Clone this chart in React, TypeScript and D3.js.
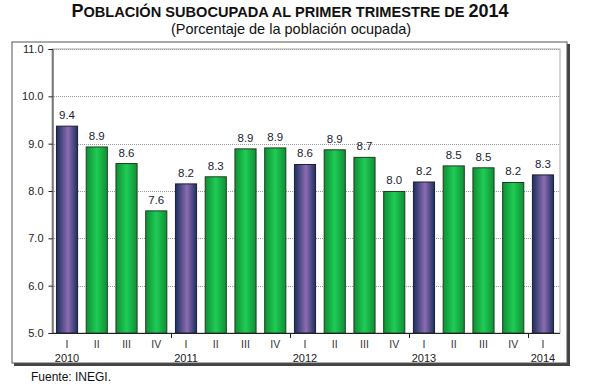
import React, { useEffect, useRef } from 'react';
import * as d3 from 'd3';

const quarters = ['I', 'II', 'III', 'IV', 'I', 'II', 'III', 'IV', 'I', 'II', 'III', 'IV', 'I', 'II', 'III', 'IV', 'I'];
const years = ['2010', '', '', '', '2011', '', '', '', '2012', '', '', '', '2013', '', '', '', '2014'];
const values = [9.37, 8.93, 8.58, 7.58, 8.15, 8.3, 8.89, 8.91, 8.56, 8.87, 8.71, 7.99, 8.19, 8.53, 8.49, 8.18, 8.34];
const yTicks = [5, 6, 7, 8, 9, 10, 11];

const App: React.FC = () => {
  const svgRef = useRef<SVGSVGElement>(null);

  useEffect(() => {
    if (!svgRef.current) return;
    const svg = d3.select(svgRef.current);
    svg.selectAll('*').remove();

    const width = 600;
    const height = 385;
    const left = 52, right = 558, top = 49, bottom = 333;

    const defs = svg.append('defs');
    const blue = defs.append('linearGradient').attr('id', 'gBlue').attr('x1', '0%').attr('x2', '100%');
    blue.append('stop').attr('offset', '0%').attr('stop-color', '#1d2f5c');
    blue.append('stop').attr('offset', '55%').attr('stop-color', '#8c6cb4');
    blue.append('stop').attr('offset', '100%').attr('stop-color', '#1d2f5c');
    const green = defs.append('linearGradient').attr('id', 'gGreen').attr('x1', '0%').attr('x2', '100%');
    green.append('stop').attr('offset', '0%').attr('stop-color', '#0f8f35');
    green.append('stop').attr('offset', '50%').attr('stop-color', '#1fcc55');
    green.append('stop').attr('offset', '100%').attr('stop-color', '#0f8f35');

    svg.append('rect').attr('width', width).attr('height', height).attr('fill', '#fff');

    // titles
    const title = svg.append('text')
      .attr('x', 290).attr('y', 17)
      .attr('text-anchor', 'middle')
      .style('font-family', '"Liberation Sans Narrow", "Liberation Sans", Arial, sans-serif')
      .style('font-weight', 'bold')
      .style('fill', '#111');
    title.append('tspan').style('font-size', '18px').text('P');
    title.append('tspan').style('font-size', '14.6px').text('OBLACIÓN SUBOCUPADA AL PRIMER TRIMESTRE DE ');
    title.append('tspan').style('font-size', '18px').text('2014');

    svg.append('text')
      .attr('x', 291).attr('y', 34)
      .attr('text-anchor', 'middle')
      .style('font-family', '"Liberation Sans", Arial, sans-serif')
      .style('font-size', '14.5px')
      .style('fill', '#111')
      .text('(Porcentaje de la población ocupada)');

    // outer frame with shadow
    svg.append('rect').attr('x', 14).attr('y', 44).attr('width', 556).attr('height', 322).attr('fill', '#444');
    svg.append('rect').attr('x', 12).attr('y', 42).attr('width', 555).attr('height', 321)
      .attr('fill', '#fff').attr('stroke', '#555').attr('stroke-width', 1);

    const x = d3.scaleBand<number>().domain(d3.range(values.length)).range([left, right]).paddingInner(0.29).paddingOuter(0.15);
    const y = d3.scaleLinear().domain([5, 11]).range([bottom, top]);

    // plot frame
    svg.append('rect').attr('x', left).attr('y', top).attr('width', right - left + 2).attr('height', bottom - top)
      .attr('fill', 'none').attr('stroke', '#aaa').attr('stroke-width', 1);

    // gridlines
    svg.append('g').selectAll('line').data(yTicks.slice(1, -1)).join('line')
      .attr('x1', left).attr('x2', right + 2)
      .attr('y1', d => Math.round(y(d)) + 0.5).attr('y2', d => Math.round(y(d)) + 0.5)
      .attr('stroke', '#9a9a9a').attr('stroke-dasharray', '1,1');
    svg.append('line').attr('x1', left).attr('x2', right + 2).attr('y1', top + 0.5).attr('y2', top + 0.5)
      .attr('stroke', '#9a9a9a').attr('stroke-dasharray', '1,1');

    // y axis
    const yAxis = svg.append('g').attr('transform', `translate(${left + 0.5},0)`)
      .call(d3.axisLeft(y).tickValues(yTicks).tickFormat(d3.format('.1f')).tickSize(4).tickPadding(5));
    yAxis.select('.domain').attr('stroke', '#222');
    yAxis.selectAll('.tick line').attr('stroke', '#222');
    yAxis.selectAll('text').style('font-family', '"Liberation Sans", Arial, sans-serif').style('font-size', '11px').style('fill', '#222');

    // bars
    svg.append('g').selectAll('rect').data(values).join('rect')
      .attr('x', (d, i) => x(i)!)
      .attr('y', d => y(d))
      .attr('width', x.bandwidth())
      .attr('height', d => y(5) - y(d))
      .attr('fill', (d, i) => (quarters[i] === 'I' ? 'url(#gBlue)' : 'url(#gGreen)'))
      .attr('stroke', (d, i) => (quarters[i] === 'I' ? '#1a1f3a' : '#1e3d1e'))
      .attr('stroke-width', 1);

    // value labels
    svg.append('g').selectAll('text').data(values).join('text')
      .attr('x', (d, i) => x(i)! + x.bandwidth() / 2)
      .attr('y', d => y(d) - 7)
      .attr('text-anchor', 'middle')
      .style('font-family', '"Liberation Sans", Arial, sans-serif')
      .style('font-size', '11.5px')
      .style('fill', '#1a2233')
      .text(d => d3.format('.1f')(d));

    // x axis
    svg.append('line').attr('x1', left).attr('x2', right + 2).attr('y1', bottom + 0.5).attr('y2', bottom + 0.5)
      .attr('stroke', '#222');
    const step = x.step();
    const boundaries = d3.range(values.length).filter(i => i > 0 && quarters[i] === 'I');
    svg.append('g').selectAll('line').data(boundaries).join('line')
      .attr('x1', i => Math.round(x(i)! - (step - x.bandwidth()) / 2) + 0.5)
      .attr('x2', i => Math.round(x(i)! - (step - x.bandwidth()) / 2) + 0.5)
      .attr('y1', bottom).attr('y2', bottom + 5)
      .attr('stroke', '#222');

    svg.append('g').selectAll('text').data(quarters).join('text')
      .attr('x', (d, i) => x(i)! + x.bandwidth() / 2)
      .attr('y', bottom + 15)
      .attr('text-anchor', 'middle')
      .style('font-family', '"Liberation Sans", Arial, sans-serif')
      .style('font-size', '10.5px')
      .style('fill', '#333')
      .text(d => d);

    svg.append('g').selectAll('text').data(years).join('text')
      .attr('x', (d, i) => x(i)! + x.bandwidth() / 2)
      .attr('y', bottom + 29)
      .attr('text-anchor', 'middle')
      .style('font-family', '"Liberation Sans", Arial, sans-serif')
      .style('font-size', '11px')
      .style('fill', '#222')
      .text(d => d);

    svg.append('text')
      .attr('x', 31).attr('y', 381)
      .style('font-family', '"Liberation Sans", Arial, sans-serif')
      .style('font-size', '12px')
      .style('fill', '#111')
      .text('Fuente: INEGI.');
  }, []);

  return <svg ref={svgRef} width={600} height={385} style={{ position: 'absolute', left: 0, top: 0 }} />;
};

export default App;
